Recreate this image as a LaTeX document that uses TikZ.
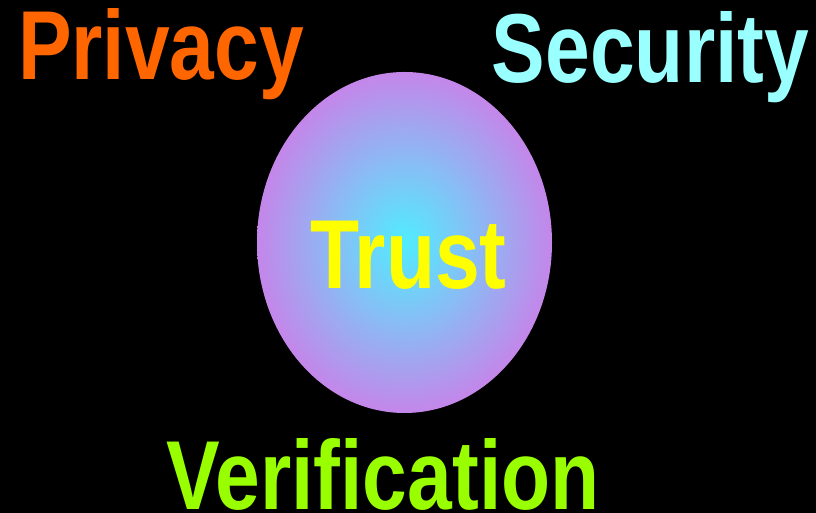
\documentclass[tikz,border=0pt]{standalone}
\usepackage{fontspec}
\usepackage{graphicx}
\setmainfont{Liberation Sans}
\usetikzlibrary{shapes.geometric}
\definecolor{privc}{RGB}{255,102,0}
\definecolor{secc}{RGB}{153,255,255}
\definecolor{verc}{RGB}{153,255,0}
\definecolor{trustc}{RGB}{255,255,0}
\definecolor{cin}{RGB}{80,236,255}
\definecolor{cmid}{RGB}{128,196,246}
\definecolor{cout}{RGB}{196,134,234}
\pgfdeclareradialshading{trustshade}{\pgfpoint{0bp}{0bp}}{color(0bp)=(cin); color(10bp)=(cmid); color(25bp)=(cout); color(50bp)=(cout)}
\tikzset{
  word/.style={inner sep=0pt, outer sep=0pt, anchor=base, font=\fontsize{98}{98}\selectfont\bfseries},
}
\newcommand{\narrowtxt}[1]{\scalebox{0.82}[1]{#1}}
\begin{document}
\begin{tikzpicture}[x=1pt,y=1pt]
\fill[black] (0,0) rectangle (816,513);
\useasboundingbox (0,0) rectangle (816,513);
\node[ellipse, draw=none, inner sep=0pt, outer sep=0pt, minimum width=295, minimum height=341, shading=trustshade] (oval) at (404.5,270.5) {};
\node[word, text=trustc] (trust) at (408.5,224) {\narrowtxt{Trust}};
\node[word, text=privc] (privacy) at (161,433) {\narrowtxt{Privacy}};
\node[word, text=secc] (security) at (650.5,430) {\narrowtxt{Security}};
\node[word, text=verc] (verification) at (383,3) {\narrowtxt{Verification}};
\end{tikzpicture}
\end{document}
